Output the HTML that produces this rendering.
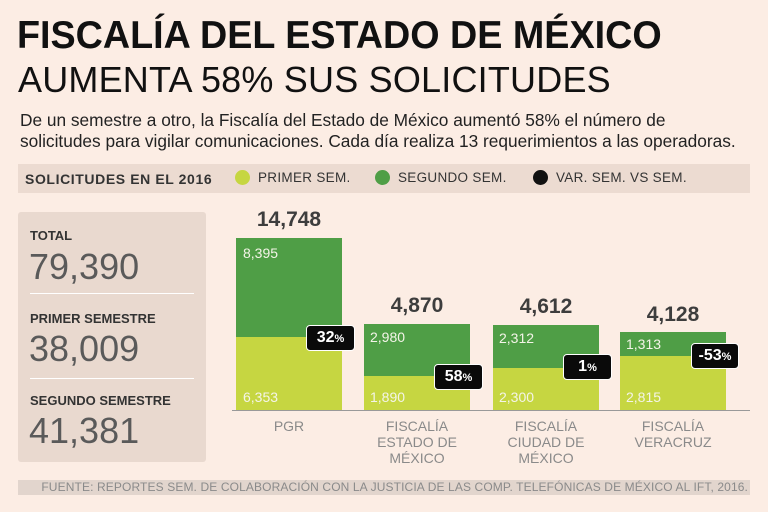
<!DOCTYPE html>
<html><head><meta charset="utf-8"><style>
body{margin:0;width:768px;height:512px;background:#fcede4;font-family:"Liberation Sans",sans-serif;position:relative;overflow:hidden;color:#333}
.a{position:absolute;white-space:nowrap}
.bar{position:absolute}
.dk{background:#4f9e46}.lt{background:#c6d641}
.v{position:absolute;color:#f4f4e8;font-size:14px}
.tot{position:absolute;font-weight:bold;font-size:21px;color:#3d3d3d;text-align:center;width:120px}
.bd{position:absolute;background:#0a0a0a;color:#fff;font-weight:bold;font-size:16px;border-radius:4px;text-align:center;height:24px;line-height:24px;border:1px solid #fff}
.bd small{font-size:11px}
.lab{position:absolute;text-align:center;width:130px;color:#8a8a8a;font-size:14px;line-height:16px}
.dot{display:inline-block;width:15px;height:15px;border-radius:50%;vertical-align:-3px;margin-right:8px}
</style></head><body>
<div class="a" style="left:17px;top:14px;font-size:39px;font-weight:bold;color:#111;transform:scaleX(0.967);transform-origin:0 0">FISCALÍA DEL ESTADO DE MÉXICO</div>
<div class="a" style="left:18px;top:59px;font-size:36px;color:#111;letter-spacing:0.2px">AUMENTA 58% SUS SOLICITUDES</div>
<div class="a" style="left:20px;top:110px;font-size:17.3px;line-height:21px;color:#222">De un semestre a otro, la Fiscalía del Estado de México aumentó 58% el número de<br>solicitudes para vigilar comunicaciones. Cada día realiza 13 requerimientos a las operadoras.</div>
<div class="a" style="left:18px;top:164px;width:732px;height:29px;background:#ecdbd1"></div>
<div class="a" style="left:25px;top:171px;font-size:14px;font-weight:bold;color:#333;letter-spacing:0.6px">SOLICITUDES EN EL 2016</div>
<div class="a" style="left:235px;top:170px;font-size:13.5px;color:#333;letter-spacing:0.3px"><span class="dot lt"></span>PRIMER SEM.</div>
<div class="a" style="left:375px;top:170px;font-size:13.5px;color:#333;letter-spacing:0.3px"><span class="dot dk"></span>SEGUNDO SEM.</div>
<div class="a" style="left:533px;top:170px;font-size:13.5px;color:#333;letter-spacing:0.3px"><span class="dot" style="background:#111"></span>VAR. SEM. VS SEM.</div>
<div class="a" style="left:18px;top:212px;width:188px;height:250px;background:#e9d9cf;border-radius:3px"></div>
<div class="a" style="left:30px;top:228px;font-size:13px;font-weight:bold">TOTAL</div>
<div class="a" style="left:29px;top:246px;font-size:36px;color:#5a5a5a">79,390</div>
<div class="a" style="left:30px;top:293px;width:164px;height:1px;background:#fff"></div>
<div class="a" style="left:30px;top:311px;font-size:13px;font-weight:bold">PRIMER SEMESTRE</div>
<div class="a" style="left:29px;top:328px;font-size:36px;color:#5a5a5a">38,009</div>
<div class="a" style="left:30px;top:378px;width:164px;height:1px;background:#fff"></div>
<div class="a" style="left:30px;top:393px;font-size:13px;font-weight:bold">SEGUNDO SEMESTRE</div>
<div class="a" style="left:29px;top:410px;font-size:36px;color:#5a5a5a">41,381</div>

<div class="bar dk" style="left:236px;top:238px;width:106px;height:99px"></div>
<div class="bar lt" style="left:236px;top:337px;width:106px;height:73px"></div>
<div class="bar dk" style="left:364px;top:324px;width:106px;height:52px"></div>
<div class="bar lt" style="left:364px;top:376px;width:106px;height:34px"></div>
<div class="bar dk" style="left:493px;top:325px;width:106px;height:43px"></div>
<div class="bar lt" style="left:493px;top:368px;width:106px;height:42px"></div>
<div class="bar dk" style="left:620px;top:332px;width:106px;height:24px"></div>
<div class="bar lt" style="left:620px;top:356px;width:106px;height:54px"></div>
<div class="a" style="left:232px;top:410px;width:518px;height:1px;background:#999"></div>

<div class="v" style="left:243px;top:245px">8,395</div><div class="v" style="left:243px;top:389px">6,353</div>
<div class="v" style="left:370px;top:329px">2,980</div><div class="v" style="left:370px;top:389px">1,890</div>
<div class="v" style="left:499px;top:330px">2,312</div><div class="v" style="left:499px;top:389px">2,300</div>
<div class="v" style="left:626px;top:336px">1,313</div><div class="v" style="left:626px;top:389px">2,815</div>

<div class="tot" style="left:229px;top:208px">14,748</div>
<div class="tot" style="left:357px;top:294px">4,870</div>
<div class="tot" style="left:486px;top:295px">4,612</div>
<div class="tot" style="left:613px;top:303px">4,128</div>

<div class="bd" style="left:306px;top:325px;width:47px">32<small>%</small></div>
<div class="bd" style="left:434px;top:364px;width:47px">58<small>%</small></div>
<div class="bd" style="left:563px;top:354px;width:47px">1<small>%</small></div>
<div class="bd" style="left:691px;top:343px;width:46px">-53<small>%</small></div>

<div class="lab" style="left:224px;top:418px">PGR</div>
<div class="lab" style="left:352px;top:418px">FISCALÍA<br>ESTADO DE<br>MÉXICO</div>
<div class="lab" style="left:481px;top:418px">FISCALÍA<br>CIUDAD DE<br>MÉXICO</div>
<div class="lab" style="left:608px;top:418px">FISCALÍA<br>VERACRUZ</div>

<div class="a" style="left:18px;top:480px;width:732px;height:15px;background:#e2d5cd"></div>
<div class="a" style="right:20px;top:480px;font-size:12px;line-height:15px;color:#8a8a8a;letter-spacing:0.12px">FUENTE: REPORTES SEM. DE COLABORACIÓN CON LA JUSTICIA DE LAS COMP. TELEFÓNICAS DE MÉXICO AL IFT, 2016.</div>
</body></html>
